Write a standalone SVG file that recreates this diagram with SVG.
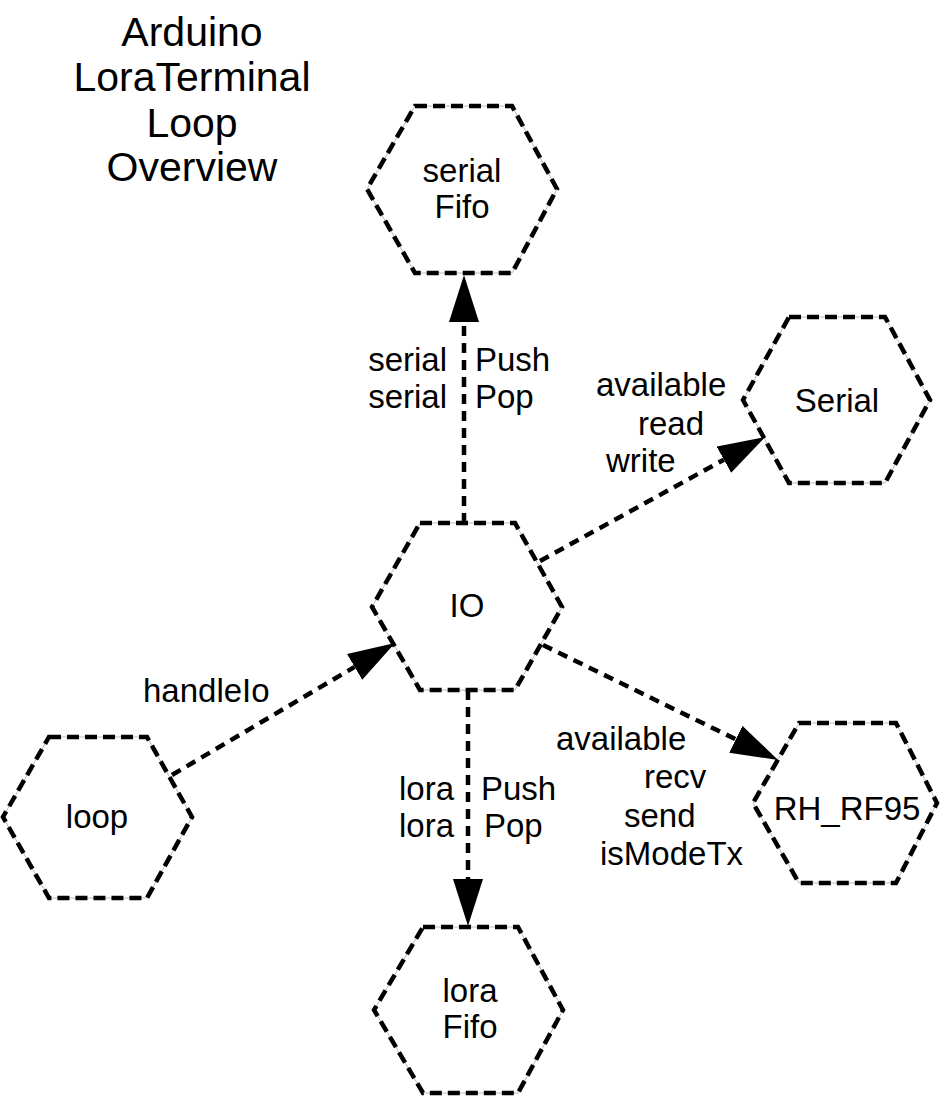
<svg xmlns="http://www.w3.org/2000/svg" width="944" height="1097" viewBox="0 0 944 1097">
<style>
  text { font-family: "Liberation Sans", Arial, sans-serif; fill: #000; }
  .title { font-size: 41px; text-anchor: middle; }
  .node { font-size: 33px; text-anchor: middle; }
  .lbl { font-size: 33px; }
  .hexbg { fill: #fff; stroke: #bbbbbb; stroke-width: 1; }
  .hex { fill: none; stroke: #000; stroke-width: 4.5; stroke-dasharray: 12 6; }
  .edge { fill: none; stroke: #000; stroke-width: 4.5; stroke-dasharray: 10 7; }
</style>
<defs>
  <marker id="arrow" markerUnits="userSpaceOnUse" markerWidth="47" markerHeight="30" viewBox="0 0 47 30" refX="0" refY="15" orient="auto">
    <path d="M0,0 L47,15 L0,30 Z" fill="#000"/>
  </marker>
</defs>
<rect width="944" height="1097" fill="#fff"/>

<g id="title">
  <text class="title" x="192" y="46">Arduino</text>
  <text class="title" x="192" y="91">LoraTerminal</text>
  <text class="title" x="192" y="137">Loop</text>
  <text class="title" x="192" y="181">Overview</text>
</g>

<g id="connectors">
  <line class="edge" x1="464" y1="523" x2="464" y2="322" marker-end="url(#arrow)"/>
  <line class="edge" x1="540" y1="561" x2="723.9" y2="459.7" marker-end="url(#arrow)"/>
  <line class="edge" x1="172" y1="775" x2="354.6" y2="666.9" marker-end="url(#arrow)"/>
  <line class="edge" x1="468" y1="690" x2="468" y2="879" marker-end="url(#arrow)"/>
  <line class="edge" x1="543" y1="645" x2="735.8" y2="739.3" marker-end="url(#arrow)"/>
  <g id="edge-labels">
    <text class="lbl" x="447" y="371" text-anchor="end">serial</text>
    <text class="lbl" x="447" y="408" text-anchor="end">serial</text>
    <text class="lbl" x="475" y="371">Push</text>
    <text class="lbl" x="475" y="408">Pop</text>
    <text class="lbl" x="596" y="396">available</text>
    <text class="lbl" x="638" y="435">read</text>
    <text class="lbl" x="606" y="472">write</text>
    <text class="lbl" x="143" y="702">handleIo</text>
    <text class="lbl" x="454" y="800" text-anchor="end">lora</text>
    <text class="lbl" x="454" y="837" text-anchor="end">lora</text>
    <text class="lbl" x="481" y="800">Push</text>
    <text class="lbl" x="484" y="837">Pop</text>
    <text class="lbl" x="556" y="750">available</text>
    <text class="lbl" x="644" y="788">recv</text>
    <text class="lbl" x="624" y="827">send</text>
    <text class="lbl" x="600" y="865">isModeTx</text>
  </g>
</g>

<g id="serialFifo">
  <polygon class="hexbg" points="367,189 415,106 512,106 557,189 512,273 415,273"/>
  <polygon class="hex" points="415,106 512,106 557,189 512,273 415,273 367,189"/>
  <text class="node" x="462" y="182">serial</text>
  <text class="node" x="462" y="218">Fifo</text>
</g>

<g id="Serial">
  <polygon class="hexbg" points="743,400 789,317 885,317 930,400 885,483 789,483"/>
  <polygon class="hex" points="789,317 885,317 930,400 885,483 789,483 743,400"/>
  <text class="node" x="837" y="412">Serial</text>
</g>

<g id="IO">
  <polygon class="hexbg" points="372,607 420,523 515,523 562,607 515,690 420,690"/>
  <polygon class="hex" points="420,523 515,523 562,607 515,690 420,690 372,607"/>
  <text class="node" x="467" y="617">IO</text>
</g>

<g id="loop">
  <polygon class="hexbg" points="3,817 49,737 147,737 192,817 147,898 49,898"/>
  <polygon class="hex" points="49,737 147,737 192,817 147,898 49,898 3,817"/>
  <text class="node" x="97" y="828">loop</text>
</g>

<g id="RH_RF95">
  <polygon class="hexbg" points="753,803 799,723 896,723 937,803 896,883 799,883"/>
  <polygon class="hex" points="799,723 896,723 937,803 896,883 799,883 753,803"/>
  <text class="node" x="847" y="820">RH_RF95</text>
</g>

<g id="loraFifo">
  <polygon class="hexbg" points="374,1010 423,927 518,927 563,1010 518,1093 423,1093"/>
  <polygon class="hex" points="423,927 518,927 563,1010 518,1093 423,1093 374,1010"/>
  <text class="node" x="470" y="1002">lora</text>
  <text class="node" x="470" y="1038">Fifo</text>
</g>
</svg>
